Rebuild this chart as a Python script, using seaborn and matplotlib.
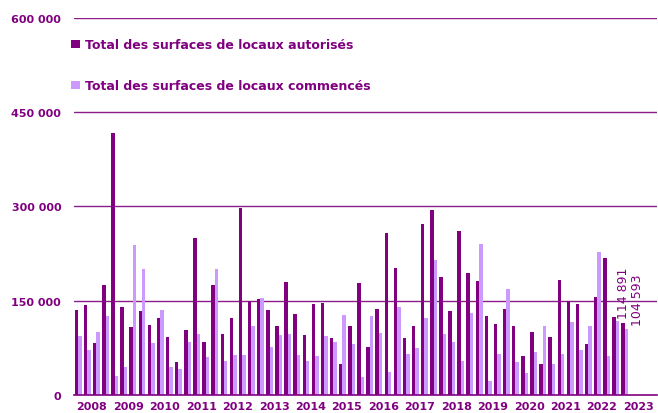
import seaborn as sns
import matplotlib.pyplot as plt
import numpy as np
import pandas as pd
from matplotlib.ticker import FuncFormatter, FixedLocator

# surfaces trimestrielles (m2), de 2008 T1 a 2023 T1
annees = [str(a) for a in range(2008, 2024)]
autorises = [
    134600, 142600, 82000, 175000,   # 2008
    417000, 140000, 108000, 133000,  # 2009
    111000, 122000, 92000, 53000,    # 2010
    104000, 250000, 85000, 175000,   # 2011
    96500, 123000, 298000, 149500,   # 2012
    152000, 136000, 110000, 179000,  # 2013
    129000, 96000, 144000, 147000,   # 2014
    91000, 50000, 110000, 178000,    # 2015
    77000, 137000, 257000, 202000,   # 2016
    90000, 110000, 272000, 295000,   # 2017
    188000, 133500, 261000, 194500,  # 2018
    181000, 126000, 113000, 137000,  # 2019
    110000, 62500, 101000, 50000,    # 2020
    93000, 183000, 149000, 144000,   # 2021
    81600, 156000, 218000, 124000,   # 2022
    114891,                          # 2023
]
commences = [
    94300, 72000, 101000, 125000,
    30000, 44500, 238000, 200000,
    82000, 135000, 44000, 42000,
    85000, 96500, 61000, 201000,
    54000, 63000, 63000, 110000,
    154000, 76000, 95000, 97000,
    63000, 53500, 62000, 94000,
    84000, 127000, 81000, 29000,
    125000, 99000, 36500, 140000,
    66000, 74000, 122000, 214000,
    96500, 84000, 53500, 130000,
    240000, 22000, 65000, 168000,
    52500, 34500, 69000, 109000,
    50000, 66000, 115500, 71500,
    109000, 227000, 62500, 117000,
    104593,
]
series = ["Total des surfaces de locaux autorisés", "Total des surfaces de locaux commencés"]

violet = "#800080"
lilas = "#CC99FF"

trimestres = [f"{a}T{q}" for a in annees for q in range(1, 5)]
df = pd.DataFrame({
    "trimestre": trimestres[:len(autorises)] * 2,
    "surface": autorises + commences,
    "serie": [series[0]] * len(autorises) + [series[1]] * len(commences),
})

sns.set_style("white")
plt.rcParams["font.family"] = ["DejaVu Sans"]

fig = plt.figure(figsize=(6.58, 4.14), dpi=100)
ax = fig.add_axes([0.112, 0.0435, 0.886, 0.911])

sns.barplot(data=df, x="trimestre", y="surface", hue="serie", order=trimestres,
            hue_order=series, palette=[violet, lilas], width=0.76,
            errorbar=None, saturation=1, linewidth=0, ax=ax)

ax.set_xlim(-0.5, len(trimestres) - 0.5)
ax.set_ylim(0, 600000)
ax.set_xlabel("")
ax.set_ylabel("")

# grille horizontale
ax.set_yticks([0, 150000, 300000, 450000, 600000])
ax.yaxis.set_major_formatter(FuncFormatter(lambda v, _: f"{int(v):,}".replace(",", " ")))
for y in [150000, 300000, 450000, 600000]:
    ax.axhline(y, color="#8B1C8B", lw=1, zorder=0)
ax.tick_params(axis="y", length=0, pad=9, labelsize=8, labelcolor=violet)
for t in ax.get_yticklabels():
    t.set_fontweight("bold")

# axe des x : traits aux limites d'annee, annees au milieu
ax.xaxis.set_major_locator(FixedLocator(np.arange(-0.5, len(trimestres), 4)))
ax.xaxis.set_minor_locator(FixedLocator(np.arange(1.5, len(trimestres), 4)))
ax.set_xticklabels([], minor=False)
ax.set_xticklabels(annees, minor=True)
ax.tick_params(axis="x", which="major", length=4, width=1, color=violet, direction="out")
ax.tick_params(axis="x", which="minor", length=0, pad=4, labelsize=8, labelcolor=violet)
for t in ax.get_xticklabels(minor=True):
    t.set_fontweight("bold")

for s in ["top", "right", "left"]:
    ax.spines[s].set_visible(False)
ax.spines["bottom"].set_color(violet)
ax.spines["bottom"].set_linewidth(1.2)

# valeurs du dernier trimestre
i = len(autorises) - 1
ax.text(i - 0.1, autorises[-1] + 7000, f"{autorises[-1]:,}".replace(",", " "),
        rotation=90, ha="center", va="bottom", color=violet, fontsize=9)
ax.text(i + 1.4, commences[-1] + 7000, f"{commences[-1]:,}".replace(",", " "),
        rotation=90, ha="center", va="bottom", color=violet, fontsize=9)

handles, labels = ax.get_legend_handles_labels()
leg = ax.legend(handles, labels, loc="upper left", bbox_to_anchor=(0.108, 0.905),
                bbox_transform=fig.transFigure, frameon=False, borderpad=0,
                borderaxespad=0, handlelength=0.7, handleheight=0.7,
                handletextpad=0.4, labelspacing=2.25, prop={"weight": "bold", "size": 9})
for t in leg.get_texts():
    t.set_color(violet)

fig.savefig("out.png", dpi=100)
